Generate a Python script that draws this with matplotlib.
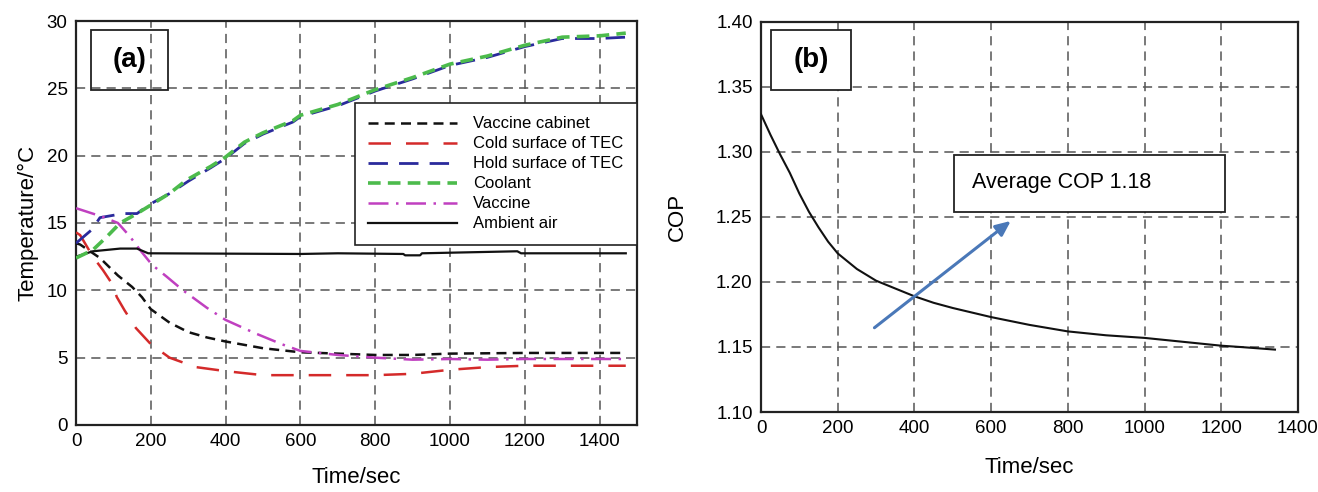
import matplotlib
matplotlib.use("Agg")
import matplotlib.pyplot as plt
from matplotlib.patches import Rectangle
import numpy as np

plt.rcParams['font.family'] = ['Liberation Sans', 'DejaVu Sans']

# ---------- Panel (a) data ----------
t_coolant = [0, 45, 83, 118, 163, 198, 250, 296, 360, 400, 450, 500, 580, 600, 700, 800, 900, 1000, 1100, 1200, 1300, 1400, 1470]
T_coolant = [12.4, 13.0, 14.0, 15.0, 15.7, 16.3, 17.2, 18.2, 19.2, 19.9, 21.0, 21.7, 22.6, 23.0, 23.8, 24.9, 25.8, 26.8, 27.4, 28.2, 28.8, 28.9, 29.1]

t_hold = [0, 42, 64, 126, 163, 198, 251, 300, 360, 400, 450, 500, 580, 600, 700, 800, 900, 1000, 1100, 1200, 1300, 1400, 1470]
T_hold = [13.5, 14.5, 15.4, 15.7, 15.7, 16.4, 17.2, 18.1, 19.1, 19.8, 20.9, 21.6, 22.5, 22.9, 23.7, 24.8, 25.7, 26.7, 27.3, 28.1, 28.7, 28.7, 28.8]

t_vaccine = [0, 72, 112, 144, 171, 203, 243, 286, 350, 400, 480, 550, 600, 700, 800, 900, 1000, 1100, 1200, 1470]
T_vaccine = [16.1, 15.45, 15.0, 14.0, 13.0, 11.9, 11.0, 10.0, 8.7, 7.8, 6.8, 6.0, 5.5, 5.2, 5.0, 4.85, 4.9, 4.85, 4.9, 4.9]

t_cabinet = [0, 11, 64, 112, 150, 176, 200, 250, 300, 350, 400, 500, 600, 700, 800, 900, 1000, 1200, 1470]
T_cabinet = [13.5, 13.4, 12.4, 11.1, 10.25, 9.5, 8.6, 7.6, 6.9, 6.5, 6.2, 5.7, 5.4, 5.3, 5.2, 5.2, 5.3, 5.35, 5.35]

t_cold = [0, 11, 45, 72, 96, 109, 130, 160, 200, 250, 280, 320, 400, 500, 600, 800, 900, 1000, 1100, 1200, 1470]
T_cold = [14.3, 14.1, 12.5, 11.5, 10.5, 9.5, 8.5, 7.2, 6.0, 5.0, 4.7, 4.3, 4.0, 3.7, 3.7, 3.7, 3.8, 4.1, 4.3, 4.4, 4.4]

t_ambient = [0, 11, 45, 118, 163, 193, 600, 700, 875, 880, 920, 925, 1180, 1190, 1200, 1470]
T_ambient = [12.5, 12.6, 12.9, 13.1, 13.1, 12.75, 12.7, 12.75, 12.7, 12.6, 12.6, 12.75, 12.9, 12.75, 12.75, 12.75]

legend_labels = ["Vaccine cabinet", "Cold surface of TEC", "Hold surface of TEC",
                 "Coolant", "Vaccine", "Ambient air"]

# ---------- Panel (b) data ----------
t_cop = [0, 25, 50, 75, 100, 125, 150, 175, 200, 250, 300, 350, 400, 450, 500, 600, 700, 800, 900, 1000, 1100, 1200, 1250, 1340]
cop = [1.329, 1.313, 1.298, 1.284, 1.268, 1.254, 1.242, 1.231, 1.222, 1.210, 1.201, 1.195, 1.189, 1.184, 1.180,
       1.173, 1.167, 1.162, 1.159, 1.157, 1.154, 1.151, 1.150, 1.148]

fig = plt.figure(figsize=(13.18, 4.92), dpi=100)

grid_kw = dict(color='#555555', linestyle=(0, (6, 4)), linewidth=1.1)

# ---------- Panel (a) ----------
ax1 = fig.add_axes([0.0577, 0.1362, 0.4256, 0.8211])
ax1.plot(t_cabinet, T_cabinet, color='#111111', lw=1.8, ls=(0, (4, 2.5)), label=legend_labels[0], zorder=3)
ax1.plot(t_cold, T_cold, color='#d42a2a', lw=1.8, ls=(0, (9, 6)), label=legend_labels[1], zorder=3)
ax1.plot(t_hold, T_hold, color='#2a2a9c', lw=2.0, ls=(0, (7, 4)), label=legend_labels[2], zorder=3)
ax1.plot(t_coolant, T_coolant, color='#4cbb4c', lw=2.6, ls=(0, (3.5, 2)), label=legend_labels[3], zorder=4)
ax1.plot(t_vaccine, T_vaccine, color='#c040c0', lw=1.8, ls=(0, (8, 3, 1, 3)), label=legend_labels[4], zorder=3)
ax1.plot(t_ambient, T_ambient, color='#111111', lw=1.6, ls='-', label=legend_labels[5], zorder=3)

ax1.set_xlim(0, 1500)
ax1.set_ylim(0, 30)
ax1.set_xticks(np.arange(0, 1401, 200))
ax1.set_yticks(np.arange(0, 31, 5))
ax1.grid(True, **grid_kw)
ax1.set_axisbelow(True)
ax1.tick_params(length=0, labelsize=13.5, pad=6)
ax1.set_xlabel("Time/sec", fontsize=16, labelpad=12)
ax1.set_ylabel("Temperature/°C", fontsize=16, labelpad=6)
for s in ax1.spines.values():
    s.set_linewidth(1.6)
    s.set_color('#222222')

leg = ax1.legend(loc='upper right', bbox_to_anchor=(1.0, 23.9 / 30), fontsize=12,
                 frameon=True, fancybox=False, edgecolor='#222222', framealpha=1,
                 handlelength=5.3, handletextpad=1.0, borderpad=0.8, labelspacing=0.3,
                 borderaxespad=0)
leg.get_frame().set_linewidth(1.2)

ax1.add_patch(Rectangle((39, 24.9), 206, 4.4, fill=False, ec='#222222', lw=1.3, zorder=5))
ax1.text(142, 27.1, "(a)", fontsize=20, fontweight='bold', ha='center', va='center', zorder=6)

# ---------- Panel (b) ----------
ax2 = fig.add_axes([0.5774, 0.1626, 0.4074, 0.7927])
ax2.plot(t_cop, cop, color='#111111', lw=1.5, zorder=3)
ax2.set_xlim(0, 1400)
ax2.set_ylim(1.10, 1.40)
ax2.set_xticks(np.arange(0, 1401, 200))
yt = np.arange(1.10, 1.401, 0.05)
ax2.set_yticks(yt)
ax2.set_yticklabels([f"{v:.2f}" for v in yt])
ax2.grid(True, **grid_kw)
ax2.set_axisbelow(True)
ax2.tick_params(length=0, labelsize=13.5, pad=6)
ax2.set_xlabel("Time/sec", fontsize=16, labelpad=14)
ax2.set_ylabel("COP", fontsize=16, labelpad=20)
for s in ax2.spines.values():
    s.set_linewidth(1.6)
    s.set_color('#222222')

ax2.add_patch(Rectangle((27, 1.348), 208, 0.0456, fc='white', ec='#222222', lw=1.3, zorder=5))
ax2.text(131, 1.371, "(b)", fontsize=20, fontweight='bold', ha='center', va='center', zorder=6)

ax2.add_patch(Rectangle((504, 1.2535), 706, 0.0442, fc='white', ec='#222222', lw=1.3, zorder=5))
ax2.text(551, 1.2766, "Average COP 1.18", fontsize=15.5, ha='left', va='center', zorder=6)

ax2.annotate("", xy=(657, 1.2483), xytext=(290, 1.1635),
             arrowprops=dict(arrowstyle='-|>,head_length=0.9,head_width=0.4',
                             color='#4a78b8', lw=2.2), zorder=4)

fig.savefig("out.png", dpi=100)
